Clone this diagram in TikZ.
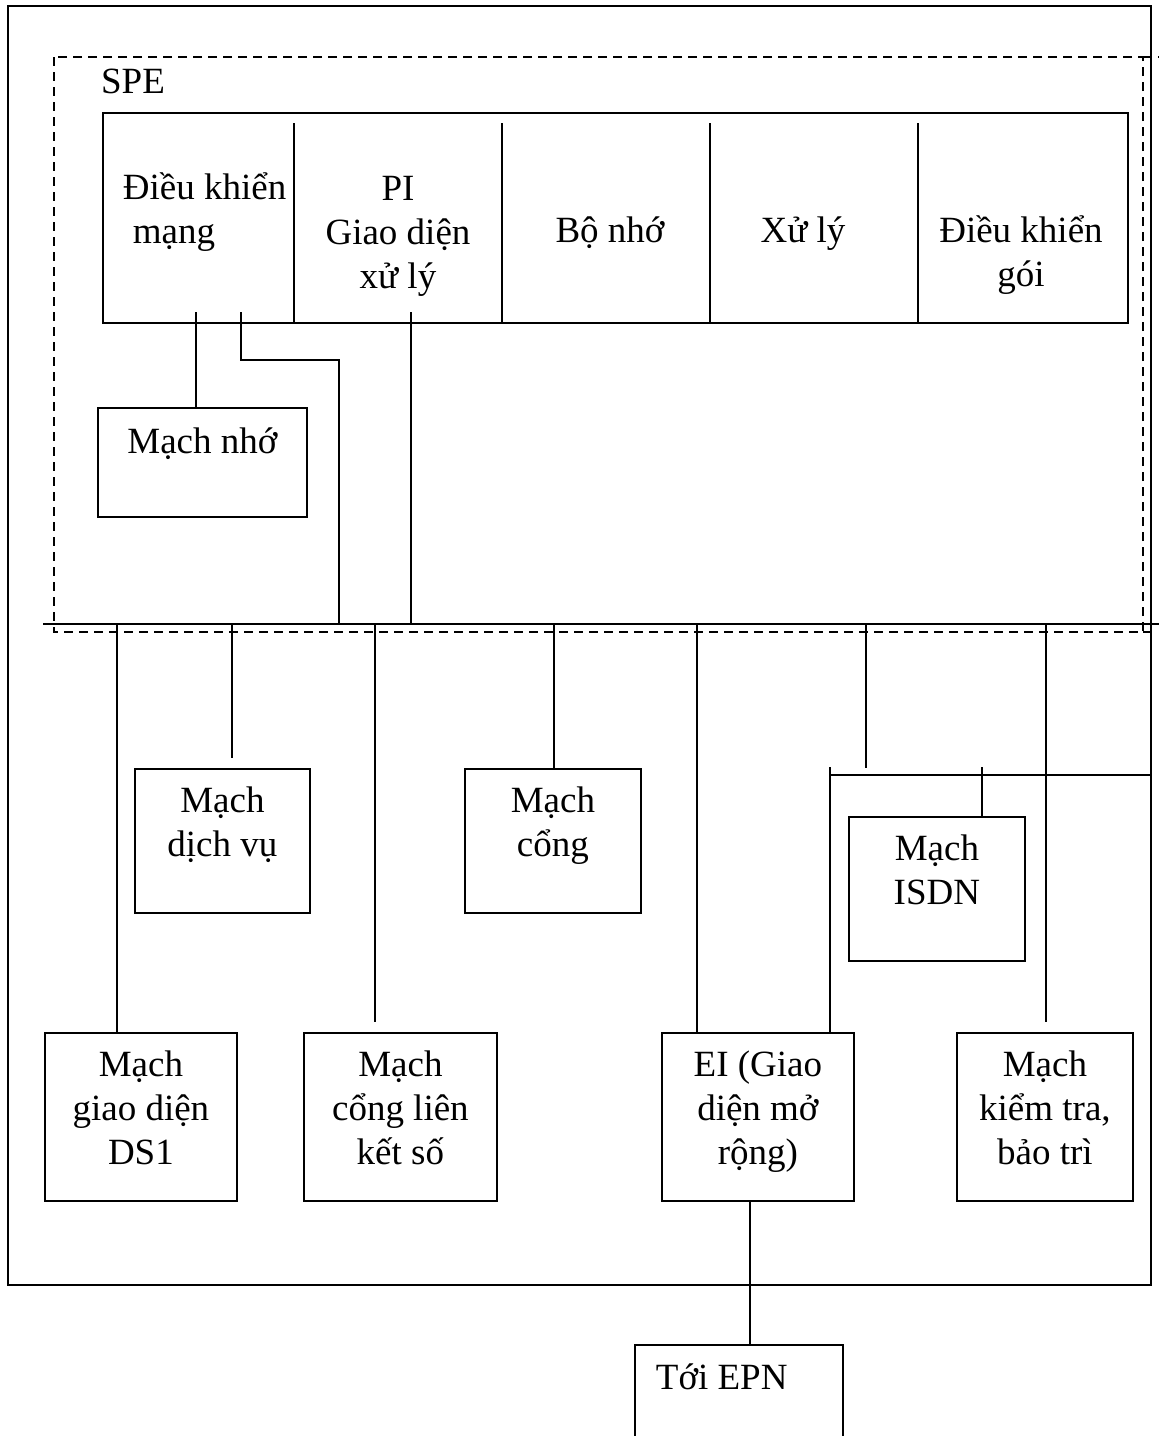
\documentclass[tikz,border=0pt]{standalone}
\usepackage{fontspec}
\setmainfont{Liberation Serif}
\usetikzlibrary{calc}
\newcommand\firstline{\rule{0pt}{36pt}}
\begin{document}
\begin{tikzpicture}[x=1pt,y=-1pt,line width=1.8pt,
  box/.style={draw,rectangle,inner sep=0pt,anchor=north west},
  txt/.style={font=\fontsize{37}{44}\selectfont,inner sep=0pt,align=center,anchor=north},
  spedash/.style={dash pattern=on 9pt off 6pt,line width=1.6pt}]
\useasboundingbox (0,0) rectangle (1159,1436);
\clip (0,0) rectangle (1159,1436);

% outer frame
\draw (8,6) rectangle (1151,1285);

% SPE boundary
\draw[spedash] (54,57) rectangle (1143,632);
\draw[spedash] (1143,57) -- (1159,57);
\draw[spedash] (1143,632) -- (1151,632);
\node[txt] (spe) at (133,57) {\firstline SPE};

% processor row
\node[box,minimum width=1025pt,minimum height=210pt] (row) at (102,112) {};
\foreach \x in {294,502,710,918} \draw (\x,123) -- (\x,0 |- row.south);
\node[txt,align=left,anchor=north west] (netctl) at (122,163) {\firstline Điều khiển\\\hspace*{10pt}mạng};
\node[txt] (pi) at (398,164) {\firstline PI\\Giao diện\\xử lý};
\node[txt] (mem) at (610,206) {\firstline Bộ nhớ};
\node[txt] (cpu) at (803,206) {\firstline Xử lý};
\node[txt] (pktctl) at (1021,206) {\firstline Điều khiển\\gói};

% memory circuit
\node[box,minimum width=209pt,minimum height=109pt] (mn) at (97,407) {};
\node[txt] at ($(mn.north)+(0,10)$) {\firstline Mạch nhớ};

% port circuits
\node[box,minimum width=175pt,minimum height=144pt] (dv) at (134,768) {};
\node[txt] at ($(dv.north)+(0,8)$) {\firstline Mạch\\dịch vụ};
\node[box,minimum width=176pt,minimum height=144pt] (cong) at (464,768) {};
\node[txt] at ($(cong.north)+(0,8)$) {\firstline Mạch\\cổng};
\node[box,minimum width=176pt,minimum height=144pt] (isdn) at (848,816) {};
\node[txt] at ($(isdn.north)+(0,8)$) {\firstline Mạch\\ISDN};
\node[box,minimum width=192pt,minimum height=168pt] (ds1) at (44,1032) {};
\node[txt] at ($(ds1.north)+(0,8)$) {\firstline Mạch\\giao diện\\DS1};
\node[box,minimum width=193pt,minimum height=168pt] (lks) at (303,1032) {};
\node[txt] at ($(lks.north)+(0,8)$) {\firstline Mạch\\cổng liên\\kết số};
\node[box,minimum width=192pt,minimum height=168pt] (ei) at (661,1032) {};
\node[txt] at ($(ei.north)+(0,8)$) {\firstline EI (Giao\\diện mở\\rộng)};
\node[box,minimum width=176pt,minimum height=168pt] (kt) at (956,1032) {};
\node[txt] at ($(kt.north)+(0,8)$) {\firstline Mạch\\kiểm tra,\\bảo trì};
\node[box,minimum width=208pt,minimum height=120pt] (epn) at (634,1344) {};
\node[txt,anchor=north west] at (655,1353) {\firstline Tới EPN};

% bus
\coordinate (busL) at (43,624);
\coordinate (busR) at (1159,624);
\draw (busL) -- (busR);

% links from the processor row
\draw (196,312) -- (196,0 |- mn.north);
\draw (241,312) -- (241,360) -- (339,360) -- (339,0 |- busL);
\draw (411,312) -- (411,0 |- busL);

% drops from the bus
\draw (117,0 |- busL) -- (117,0 |- ds1.north);
\draw (232,0 |- busL) -- (232,758);
\draw (375,0 |- busL) -- (375,1022);
\draw (554,0 |- busL) -- (554,0 |- cong.north);
\draw (697,0 |- busL) -- (697,0 |- ei.north);
\draw (866,0 |- busL) -- (866,768);
\draw (1046,0 |- busL) -- (1046,1022);

% ISDN branch
\coordinate (isdnL) at (830,775);
\draw (isdnL) -- (1151,775);
\draw (830,767) -- (830,0 |- ei.north);
\draw (982,767) -- (982,0 |- isdn.north);

% link to EPN
\draw (750,0 |- ei.south) -- (750,0 |- epn.north);
\end{tikzpicture}
\end{document}
